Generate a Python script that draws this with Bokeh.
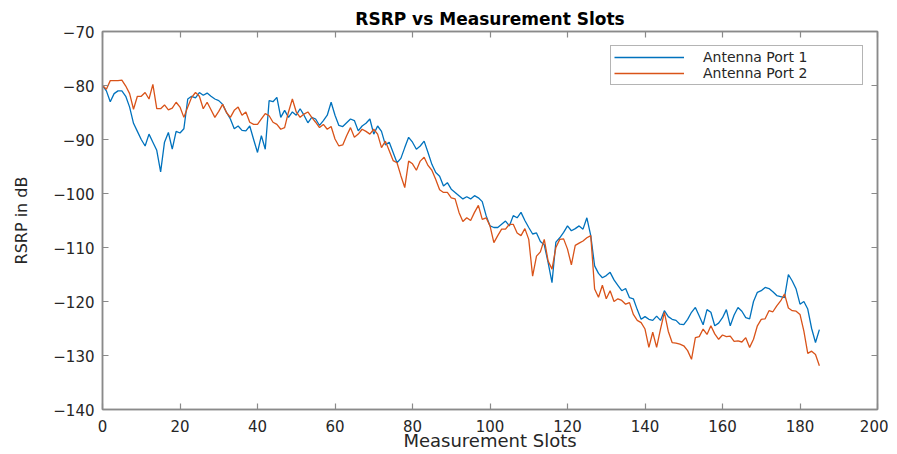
from bokeh.plotting import figure
from bokeh.models import Range1d, FixedTicker, LinearAxis, Legend, LegendItem, Title
from bokeh.embed import file_html
from bokeh.resources import INLINE

slots = list(range(186))

port1 = [
    -80, -81, -83, -81.5, -81, -81, -82, -84, -87, -88.5,
    -90, -91.2, -89, -90.5, -92, -96, -90.5, -88.7, -91.8, -88.5,
    -88.8, -88, -82.5, -82, -82.3, -81.3, -81.8, -81.4, -82, -82.5,
    -82.8, -83.5, -85, -86.2, -88, -87.5, -88.3, -88.4, -87.5, -90,
    -92.4, -89.3, -91.8, -82.8, -83, -82.2, -85.9, -84.6, -85.9, -84.9,
    -85.5, -84.3, -85.5, -86.9, -85.9, -86.2, -87.4, -86.5, -85.5, -83.1,
    -85.5, -87.4, -87.6, -86.9, -86.2, -86.5, -88.4, -87.5, -87, -86.2,
    -89, -87.5, -88.5, -91, -90.5, -92.4, -94.3, -93.5, -91.5, -89.6,
    -90.5, -91.8, -91.2, -90.3, -92.4, -94.6, -96.1, -96.8, -98.6, -98,
    -99.2, -99.8, -100.4, -101, -100.6, -101, -100.4, -100.8, -101.5, -104.1,
    -106, -106.3, -106.3, -105.7, -105.1, -106, -104.1, -104.5, -103.5, -105,
    -106.3, -107.5, -107.3, -108.9, -109.5, -112.8, -116.5, -109, -108.2, -107.2,
    -106, -106.9, -106.5, -106, -106.6, -104.5, -107.8, -113.4, -114.8, -115.6,
    -115.2, -114.6, -116, -117, -118, -117.6, -119.3, -119.5, -121.5, -123.3,
    -122.8, -123.3, -123.5, -122.7, -123.5, -121.7, -122.8, -123.3, -123.5, -124.2,
    -124.3, -123.3, -122, -121.1, -122.7, -124.3, -121.5, -122, -124.5, -124,
    -123, -121.5, -124.5, -122.5, -121.1, -121.8, -123, -123.2, -120, -118.3,
    -118, -117.4, -117.6, -118.2, -118.9, -119.1, -119.3, -115, -116.2, -117.7,
    -120.5, -120, -121.4, -125, -127.6, -125.2,
]

port2 = [
    -80, -80.7, -79.1, -79.1, -79.1, -79, -80.1, -81.5, -84.4, -82,
    -82, -81.3, -82.5, -79.8, -84.3, -84.3, -83.6, -84.5, -84.2, -83.1,
    -84, -85.9, -84, -82.2, -81.3, -82, -84.3, -83.1, -84.5, -85.9,
    -84.8, -83.5, -85, -85.9, -84.6, -84, -85.5, -84.9, -86.8, -87.2,
    -87.2, -86.2, -85.2, -85.6, -86.8, -87.2, -88.1, -87.8, -84.9, -82.5,
    -84.9, -85.9, -85.3, -84.9, -85.9, -86.8, -87.8, -87.2, -88.1, -87.6,
    -89.9, -91.2, -91, -89.3, -87.8, -89.6, -89, -88.1, -88.5, -89,
    -88.1, -89, -91.5, -90.3, -92.1, -93.9, -94.3, -96.7, -98.9, -94,
    -94.5, -95.7, -94, -93.3, -94.8, -95.7, -97.4, -99.3, -99.8, -99.8,
    -100.8, -101, -103.5, -105.2, -104.5, -105, -103.5, -102.2, -104.8, -104.5,
    -106, -109.1, -107.8, -106.6, -106.6, -105.7, -105.7, -107.3, -107.8, -106.5,
    -108.5, -115.3, -111.6, -110.8, -108.5, -112.5, -114, -110, -108.5, -108.4,
    -110.3, -113.2, -109.6, -109.2, -108.8, -108.2, -107.8, -117.7, -119.2, -117,
    -119.5, -118, -120, -119.5, -119.8, -120.5, -120.2, -122.4, -123.5, -123.9,
    -125.1, -128.5, -125.7, -128.5, -125.1, -122, -125.5, -127.6, -127.7, -127.9,
    -128.2, -129.1, -130.7, -126.7, -126.5, -125.1, -126.1, -124.5, -126, -127,
    -126.2, -126.5, -126.4, -127.4, -127.3, -127.5, -126.7, -128.5, -127, -124.5,
    -123.3, -123.2, -121.7, -121.9, -120.8, -119.9, -118.6, -121.2, -121.7, -121.8,
    -122.4, -125.5, -129.6, -129.2, -129.8, -131.9,
]

x_ticks = [0, 20, 40, 60, 80, 100, 120, 140, 160, 180, 200]
y_ticks = [-140, -130, -120, -110, -100, -90, -80, -70]
series_names = ["Antenna Port 1", "Antenna Port 2"]

AXIS_GREY = "#8a8a8a"
TEXT = "#262626"
FONT = "DejaVu Sans"

p = figure(
    output_backend="svg", toolbar_location=None,
    frame_width=775, frame_height=378,
    x_range=Range1d(0, 200), y_range=Range1d(-140, -70),
    min_border_left=102, min_border_right=11, min_border_top=31, min_border_bottom=42,
    background_fill_color="white", border_fill_color="white",
)
p.title = Title(text="RSRP vs Measurement Slots", align="center",
                text_font=FONT, text_font_style="bold", text_font_size="17px",
                text_color="#000000", standoff=6, offset=0)
p.outline_line_color = AXIS_GREY
p.outline_line_width = 1.5
p.xgrid.visible = False
p.ygrid.visible = False

l1 = p.line(slots, port1, line_color="#0072BD", line_width=1.3)
l2 = p.line(slots, port2, line_color="#D95319", line_width=1.3)

def style(ax, ticks, labels=True):
    ax.ticker = FixedTicker(ticks=ticks)
    ax.axis_line_color = AXIS_GREY
    ax.axis_line_width = 1.5
    ax.major_tick_line_color = AXIS_GREY
    ax.major_tick_line_width = 1.2
    ax.major_tick_in = 6
    ax.major_tick_out = 0
    ax.minor_tick_line_color = None
    ax.major_label_text_font = FONT
    ax.major_label_text_font_size = "15px"
    ax.major_label_text_color = TEXT
    if not labels:
        ax.major_label_text_font_size = "0px"
        ax.major_label_text_color = None

style(p.xaxis[0], x_ticks)
style(p.yaxis[0], y_ticks)
p.xaxis[0].major_label_standoff = 10
p.yaxis[0].major_label_standoff = 8
p.xaxis[0].axis_label = "Measurement Slots"
p.xaxis[0].axis_label_text_font = FONT
p.xaxis[0].axis_label_text_font_size = "18px"
p.xaxis[0].axis_label_text_font_style = "normal"
p.xaxis[0].axis_label_text_color = TEXT
p.xaxis[0].axis_label_standoff = -5
p.yaxis[0].axis_label = "RSRP in dB"
p.yaxis[0].axis_label_text_font = FONT
p.yaxis[0].axis_label_text_font_size = "16px"
p.yaxis[0].axis_label_text_font_style = "normal"
p.yaxis[0].axis_label_text_color = TEXT
p.yaxis[0].axis_label_standoff = 19

top_ax = LinearAxis()
style(top_ax, x_ticks, labels=False)
p.add_layout(top_ax, "above")
right_ax = LinearAxis()
style(right_ax, y_ticks, labels=False)
p.add_layout(right_ax, "right")

legend = Legend(items=[LegendItem(label=series_names[0], renderers=[l1]),
                       LegendItem(label=series_names[1], renderers=[l2])],
                location="top_right")
legend.margin = 14
legend.padding = 3
legend.spacing = 0
legend.glyph_width = 70
legend.glyph_height = 16
legend.label_height = 16
legend.label_width = 156
legend.label_standoff = 19
legend.label_text_font = FONT
legend.label_text_font_size = "14px"
legend.label_text_color = TEXT
legend.border_line_color = "#6a6a6a"
legend.border_line_width = 1.5
legend.background_fill_color = "white"
legend.background_fill_alpha = 1.0
p.add_layout(legend, "center")

open("out.html", "w").write(file_html(p, INLINE))
